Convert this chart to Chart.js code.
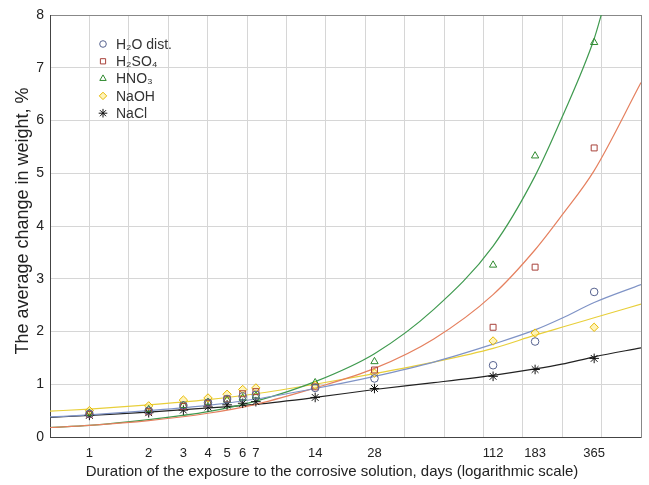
<!DOCTYPE html>
<html lang="en">
<head>
<meta charset="UTF-8">
<title>Average change in weight</title>
<script src="https://cdn.jsdelivr.net/npm/chart.js"></script>
<style>
  body { margin: 0; background: #fff; }
  #wrap { width: 649px; height: 485px; }
</style>
</head>
<body>
<div id="wrap"><canvas id="weightChart"></canvas></div>
<script>
// measured points (days of exposure)
const days  = [1, 2, 3, 4, 5, 6, 7, 14, 28, 112, 183, 365];
const h2o   = [0.44, 0.50, 0.60, 0.65, 0.72, 0.77, 0.80, 0.93, 1.11, 1.36, 1.81, 2.75];
const h2so4 = [0.43, 0.48, 0.58, 0.64, 0.72, 0.82, 0.86, 0.95, 1.27, 2.08, 3.22, 5.48];
const hno3  = [0.45, 0.52, 0.60, 0.66, 0.70, 0.74, 0.78, 1.03, 1.43, 3.26, 5.33, 7.48];
const naoh  = [0.50, 0.59, 0.70, 0.74, 0.81, 0.90, 0.93, 0.98, 1.21, 1.82, 1.97, 2.08];
const nacl  = [0.41, 0.46, 0.51, 0.57, 0.61, 0.64, 0.67, 0.75, 0.92, 1.15, 1.28, 1.49];

// fitted curves
const fitDays     = [0.631, 1, 2, 4, 7, 14, 28, 56, 112, 183, 250, 365, 631];
const fitH2O      = [0.38, 0.42, 0.50, 0.60, 0.72, 0.92, 1.15, 1.42, 1.76, 2.03, 2.25, 2.55, 2.89];
const fitH2SO4    = [0.18, 0.22, 0.31, 0.45, 0.62, 0.93, 1.30, 1.86, 2.70, 3.55, 4.20, 5.05, 6.72];
const fitNaOH     = [0.49, 0.53, 0.61, 0.71, 0.82, 1.00, 1.20, 1.42, 1.68, 1.93, 2.08, 2.26, 2.52];
const fitNaCl     = [0.37, 0.41, 0.47, 0.55, 0.62, 0.75, 0.90, 1.03, 1.17, 1.29, 1.38, 1.52, 1.69];
const fitHNO3Days = [0.631, 1, 2, 4, 7, 14, 28, 56, 112, 183, 250, 365, 400];
const fitHNO3     = [0.18, 0.22, 0.33, 0.48, 0.68, 1.05, 1.58, 2.42, 3.62, 4.95, 6.05, 7.55, 8.05];

// axis ticks
const tickDays = [1, 2, 3, 4, 5, 6, 7, 14, 28, 112, 183, 365];
const gridDays = [0.631, 1, 1.585, 2.512, 3.981, 6.31, 10, 15.85, 25.12, 39.81, 63.1, 100, 158.5, 251.2, 398.1, 631];
const yTicks   = [0, 1, 2, 3, 4, 5, 6, 7, 8];

const seriesNames = ['H\u2082O dist.', 'H\u2082SO\u2084', 'HNO\u2083', 'NaOH', 'NaCl'];
const xTitle = 'Duration of the exposure to the corrosive solution, days (logarithmic scale)';
const yTitle = 'The average change in weight, %';

const FONT = 'Liberation Sans, Arial, sans-serif';

const styles = [
    { marker: '#56628f', fill: 'rgba(255,255,255,0)', line: '#7f93c6', shape: 'circle', r: 3.8 },
    { marker: '#a8423a', fill: 'rgba(255,255,255,0)', line: '#e5805f', shape: 'rect', r: 4.2 },
    { marker: '#2f8a2f', fill: 'rgba(255,255,255,0)', line: '#3f9a4f', shape: 'triangle', r: 4.2 },
    { marker: '#e6b800', fill: 'rgba(255,236,140,0.6)', line: '#e8cf3a', shape: 'rectRot', r: 4.2 },
    { marker: '#111111', fill: 'rgba(0,0,0,0)', line: '#222222', shape: 'star', r: 4.8 }
];

const pointsData = [h2o, h2so4, hno3, naoh, nacl];
const fitData = [
    [fitDays, fitH2O], [fitDays, fitH2SO4], [fitHNO3Days, fitHNO3], [fitDays, fitNaOH], [fitDays, fitNaCl]
];

const toXY = (xs, ys) => xs.map((x, i) => ({ x: x, y: ys[i] }));

const datasets = [];
fitData.forEach((f, i) => {
    datasets.push({
        label: seriesNames[i] + ' fit',
        data: toXY(f[0], f[1]),
        showLine: true,
        borderColor: styles[i].line,
        borderWidth: 1.2,
        pointRadius: 0,
        cubicInterpolationMode: 'monotone',
        order: 2
    });
});
pointsData.forEach((p, i) => {
    datasets.push({
        label: seriesNames[i],
        data: toXY(days, p),
        showLine: false,
        pointStyle: styles[i].shape,
        pointRadius: styles[i].r,
        pointBorderWidth: 1,
        borderColor: styles[i].marker,
        backgroundColor: styles[i].fill,
        order: 1
    });
});

// legend inside the plot area + axis titles placed like the original
const insideLegend = {
    id: 'insideLegend',
    afterDraw(chart) {
        const ctx = chart.ctx;
        const area = chart.chartArea;
        const x0 = area.left + 53;
        const y0 = area.top + 29;
        ctx.save();
        seriesNames.forEach((name, i) => {
            const y = y0 + i * 17.3;
            ctx.strokeStyle = styles[i].marker;
            ctx.fillStyle = styles[i].fill;
            ctx.lineWidth = 1;
            Chart.helpers.drawPoint(ctx, { pointStyle: styles[i].shape, radius: styles[i].r - 0.5, rotation: 0, borderWidth: 1 }, x0, y);
            ctx.fillStyle = '#333';
            ctx.font = '14px ' + FONT;
            ctx.textBaseline = 'middle';
            ctx.textAlign = 'left';
            ctx.fillText(name, x0 + 13, y + 1);
        });

        ctx.fillStyle = '#222';
        ctx.textAlign = 'center';
        ctx.textBaseline = 'middle';
        ctx.font = '15px ' + FONT;
        ctx.fillText(xTitle, 332, 472);

        ctx.translate(23, 221);
        ctx.rotate(-Math.PI / 2);
        ctx.font = '18px ' + FONT;
        ctx.fillText(yTitle, 0, 0);
        ctx.restore();
    }
};

const ctx = document.getElementById('weightChart').getContext('2d');
new Chart(ctx, {
    type: 'scatter',
    data: { datasets: datasets },
    plugins: [insideLegend],
    options: {
        responsive: true,
        maintainAspectRatio: false,
        animation: false,
        layout: { padding: { top: 15, right: 8, left: 0, bottom: 0 } },
        plugins: {
            legend: { display: false },
            tooltip: { enabled: false }
        },
        scales: {
            x: {
                type: 'logarithmic',
                position: 'bottom',
                bounds: 'data',
                min: gridDays[0],
                max: gridDays[gridDays.length - 1],
                afterBuildTicks: s => { s.ticks = tickDays.map(v => ({ value: v })); },
                afterFit: s => { s.height = 48; },
                ticks: {
                    callback: v => String(v),
                    autoSkip: false,
                    maxRotation: 0,
                    color: '#222',
                    padding: 9,
                    font: { family: FONT, size: 13 }
                },
                grid: { display: false, drawTicks: false },
                border: { display: true, color: '#444' }
            },
            xg: {
                type: 'logarithmic',
                position: 'top',
                bounds: 'data',
                min: gridDays[0],
                max: gridDays[gridDays.length - 1],
                afterBuildTicks: s => { s.ticks = gridDays.map(v => ({ value: v })); },
                afterFit: s => { s.height = 0; },
                ticks: { display: false },
                grid: { color: '#d6d6d6', drawTicks: false },
                border: { display: true, color: '#888' }
            },
            y: {
                type: 'linear',
                min: yTicks[0],
                max: yTicks[yTicks.length - 1],
                afterBuildTicks: s => { s.ticks = yTicks.map(v => ({ value: v })); },
                afterFit: s => { s.width = 50; },
                ticks: {
                    color: '#222',
                    padding: 6,
                    font: { family: FONT, size: 14 }
                },
                grid: { color: '#d6d6d6', drawTicks: false },
                border: { display: true, color: '#444' }
            },
            yr: {
                type: 'linear',
                position: 'right',
                min: yTicks[0],
                max: yTicks[yTicks.length - 1],
                afterFit: s => { s.width = 0; },
                ticks: { display: false },
                grid: { display: false, drawTicks: false },
                border: { display: true, color: '#888' }
            }
        }
    }
});
</script>
</body>
</html>
